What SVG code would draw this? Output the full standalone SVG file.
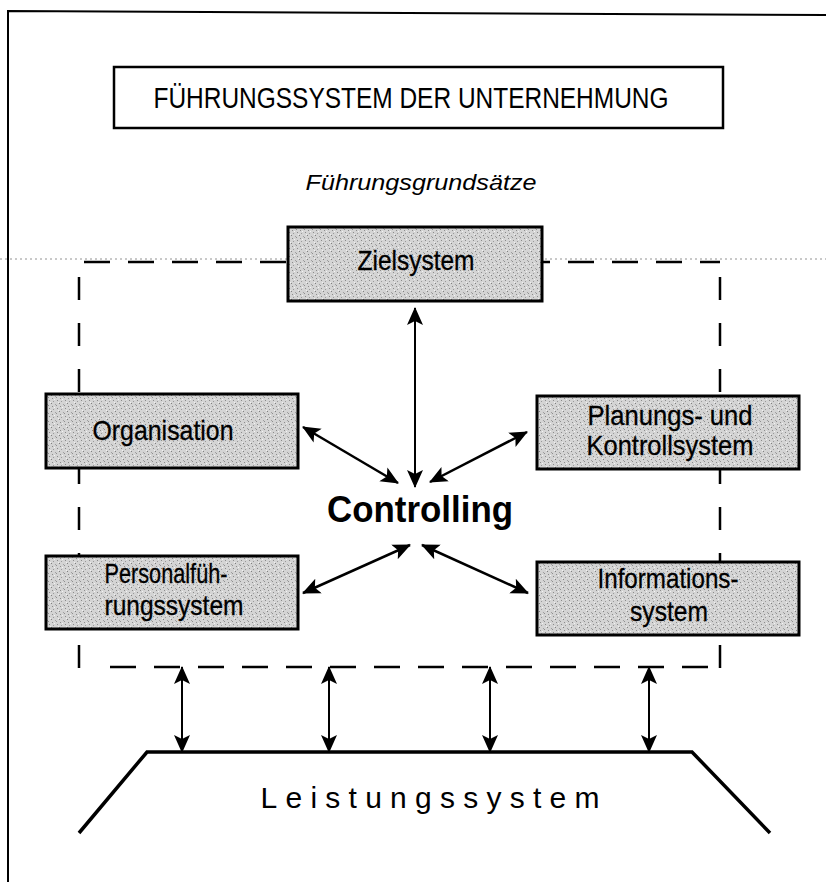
<svg xmlns="http://www.w3.org/2000/svg" width="826" height="882" viewBox="0 0 826 882">
<style>
.t{font-family:"Liberation Sans",Arial,sans-serif;fill:#000;text-anchor:middle}
.bx{font-size:28px;stroke:#000;stroke-width:0.3}
.box{fill:url(#stip);stroke:#000;stroke-width:3}
.dh{fill:none;stroke:#000;stroke-width:2.5;stroke-dasharray:26 18}
.dv{fill:none;stroke:#000;stroke-width:2.5;stroke-dasharray:23 23}
.con{stroke:#000;stroke-width:2.5;fill:none;marker-start:url(#ah);marker-end:url(#ah)}
.vc{stroke:#000;stroke-width:2;fill:none;marker-start:url(#ah);marker-end:url(#ah)}
</style>
<defs>
<pattern id="stip" width="8" height="8" patternUnits="userSpaceOnUse">
<rect width="8" height="8" fill="#d4d4d4"/>
<rect x="1" y="0" width="1" height="1" fill="#8a8a8a"/>
<rect x="5" y="1" width="1" height="1" fill="#9a9a9a"/>
<rect x="3" y="3" width="1" height="1" fill="#808080"/>
<rect x="7" y="4" width="1" height="1" fill="#a0a0a0"/>
<rect x="0" y="5" width="1" height="1" fill="#909090"/>
<rect x="4" y="6" width="1" height="1" fill="#8c8c8c"/>
<rect x="6" y="7" width="1" height="1" fill="#f4f4f4"/>
<rect x="2" y="2" width="1" height="1" fill="#f0f0f0"/>
</pattern>
<marker id="ah" markerUnits="userSpaceOnUse" markerWidth="20" markerHeight="18" refX="17" refY="8" orient="auto-start-reverse" viewBox="0 0 20 16">
<path d="M0,0 L18,8 L0,16 L4,8 z" fill="#000"/>
</marker>
</defs>
<rect width="826" height="882" fill="#fff"/>
<g id="frame">
<path d="M8,882 L8,11 L826,15" fill="none" stroke="#000" stroke-width="2"/>
<line x1="0" y1="259" x2="826" y2="259" stroke="#777" stroke-width="0.8" stroke-dasharray="2 3"/>
</g>
<g id="boundary">
<path class="dh" d="M84,262 H720"/>
<path class="dh" d="M110,667 H720"/>
<path class="dv" d="M79,277 V668"/>
<path class="dv" d="M720,277 V668"/>
</g>
<g id="title">
<rect x="114" y="67" width="609" height="61" fill="#fff" stroke="#000" stroke-width="2.5"/>
<text class="t" x="411" y="108" font-size="30" textLength="515" lengthAdjust="spacingAndGlyphs">FÜHRUNGSSYSTEM DER UNTERNEHMUNG</text>
</g>
<g id="grundsaetze">
<text class="t" x="421" y="190" font-size="22" font-style="italic" textLength="231" lengthAdjust="spacingAndGlyphs">Führungsgrundsätze</text>
</g>
<g id="zielsystem">
<rect class="box" x="288" y="227" width="254" height="74"/>
<text class="t bx" x="416" y="270" textLength="117" lengthAdjust="spacingAndGlyphs">Zielsystem</text>
</g>
<g id="organisation">
<rect class="box" x="46" y="394" width="252" height="74"/>
<text class="t bx" x="163" y="440" textLength="141" lengthAdjust="spacingAndGlyphs">Organisation</text>
</g>
<g id="planung">
<rect class="box" x="537" y="396" width="262" height="73"/>
<text class="t bx" x="670" y="425" textLength="165" lengthAdjust="spacingAndGlyphs">Planungs- und</text>
<text class="t bx" x="670" y="455" textLength="167" lengthAdjust="spacingAndGlyphs">Kontrollsystem</text>
</g>
<g id="personal">
<rect class="box" x="46" y="556" width="252" height="73"/>
<text class="t bx" x="166" y="583" textLength="123" lengthAdjust="spacingAndGlyphs">Personalfüh-</text>
<text class="t bx" x="174" y="615" textLength="139" lengthAdjust="spacingAndGlyphs">rungssystem</text>
</g>
<g id="information">
<rect class="box" x="537" y="562" width="262" height="73"/>
<text class="t bx" x="668" y="588" textLength="141" lengthAdjust="spacingAndGlyphs">Informations-</text>
<text class="t bx" x="669" y="621" textLength="78" lengthAdjust="spacingAndGlyphs">system</text>
</g>
<g id="controlling">
<text class="t" x="420" y="522" font-size="37" font-weight="bold" textLength="186" lengthAdjust="spacingAndGlyphs">Controlling</text>
</g>
<g id="leistungssystem">
<path d="M79,833 L147,752 L692,752 L770,833" fill="none" stroke="#000" stroke-width="3.5" stroke-linejoin="miter"/>
<text class="t" x="430" y="808" font-size="30" textLength="339" lengthAdjust="spacing">Leistungssystem</text>
</g>
<g id="connectors">
<line class="vc" x1="415" y1="308" x2="415" y2="487"/>
<line class="con" x1="303" y1="427" x2="398" y2="483"/>
<line class="con" x1="527" y1="432" x2="430" y2="482"/>
<line class="con" x1="303" y1="593" x2="410" y2="545"/>
<line class="con" x1="528" y1="593" x2="422" y2="545"/>
<line class="vc" x1="182" y1="667" x2="182" y2="752"/>
<line class="vc" x1="329" y1="667" x2="329" y2="752"/>
<line class="vc" x1="490" y1="667" x2="490" y2="752"/>
<line class="vc" x1="649" y1="667" x2="649" y2="752"/>
</g>
</svg>
